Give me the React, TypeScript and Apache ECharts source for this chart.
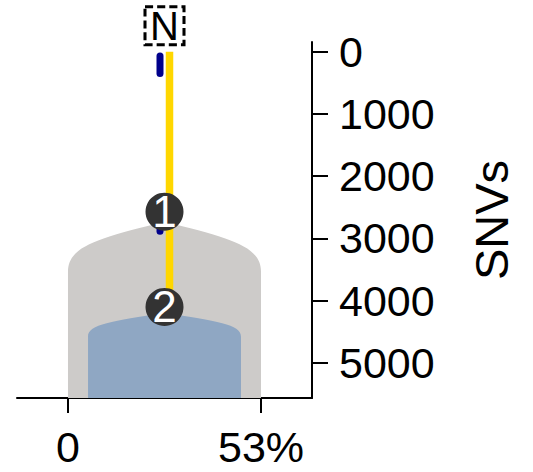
import React, { useEffect, useRef } from 'react';
import * as echarts from 'echarts';

// ---- data ----
const rootLabel = 'N';
const rootSNV = 0;
const cloneLabels = ['1', '2'];
const cloneSNVs = [2570, 4100];
const clonePrevalence = [0.53, 0.42];
const trunkSegment = [0, 4100]; // yellow trunk: root -> clone 2
const sideSegments = [
  [70, 350],
  [2570, 2885],
]; // dark blue
const yTicks = [0, 1000, 2000, 3000, 4000, 5000];
const xTicks = [0, 0.53];
const xTickLabels = ['0', '53%'];

// ---- layout / style constants ----
const X_MIN = -0.14;
const X_MAX = 0.67;
const Y_MIN = -156;
const Y_MAX = 5562;
const CENTER = Math.max(...clonePrevalence) / 2;
const FONT = "'Liberation Sans', Arial, sans-serif";
const SHAPES = [
  { apex: 10, drop: 50, slope: 0.25, color: '#cdcbc9' },
  { apex: 6, drop: 23.5, slope: 0.15, color: '#8fa7c3' },
];

export default function App() {
  const ref = useRef<HTMLDivElement>(null);
  useEffect(() => {
    if (!ref.current) return;
    const chart = echarts.init(ref.current, null, { renderer: 'svg' });

    const cloneData = clonePrevalence.map((p, i) => [p, cloneSNVs[i]]);

    const option: any = {
      animation: false,
      textStyle: { fontFamily: FONT },
      grid: { left: 17, right: 221, top: 42, bottom: 74 },
      xAxis: {
        type: 'value',
        min: X_MIN,
        max: X_MAX,
        position: 'bottom',
        axisLine: { show: true, onZero: false, lineStyle: { color: '#000', width: 2 } },
        axisTick: { show: true, length: 15, customValues: xTicks, lineStyle: { color: '#000', width: 2 } },
        axisLabel: {
          show: true,
          customValues: xTicks,
          formatter: (v: number) => {
            const i = xTicks.findIndex((t) => Math.abs(t - v) < 1e-9);
            return i >= 0 ? xTickLabels[i] : '';
          },
          fontSize: 43,
          color: '#000',
          margin: 27,
          fontFamily: FONT,
        },
        splitLine: { show: false },
      },
      yAxis: {
        type: 'value',
        inverse: true,
        min: Y_MIN,
        max: Y_MAX,
        position: 'right',
        name: 'SNVs',
        nameLocation: 'middle',
        nameRotate: 90,
        nameGap: 156,
        nameTextStyle: { fontSize: 47, color: '#000', fontFamily: FONT },
        axisLine: { show: true, onZero: false, lineStyle: { color: '#000', width: 2 } },
        axisTick: { show: true, length: 16, customValues: yTicks, lineStyle: { color: '#000', width: 2 } },
        axisLabel: {
          show: true,
          customValues: yTicks,
          formatter: (v: number) => String(v),
          fontSize: 43,
          color: '#000',
          margin: 27,
          fontFamily: FONT,
        },
        splitLine: { show: false },
      },
      series: [
        {
          type: 'custom',
          name: 'clones',
          data: cloneData,
          z: 1,
          renderItem: (params: any, api: any) => {
            const idx = params.dataIndex;
            const prev = api.value(0);
            const snv = api.value(1);
            const left = api.coord([CENTER - prev / 2, snv]);
            const right = api.coord([CENTER + prev / 2, snv]);
            const bottom = api.coord([CENTER, Y_MAX])[1];
            const cx = (left[0] + right[0]) / 2;
            const h = (right[0] - left[0]) / 2;
            const s = SHAPES[idx];
            const ay = left[1] + s.apex;
            const d =
              `M${cx},${ay} ` +
              `C${cx - 0.68 * h},${ay + s.slope * 0.68 * h} ${cx - h},${ay + s.slope * h} ${cx - h},${ay + s.drop} ` +
              `L${cx - h},${bottom} L${cx + h},${bottom} L${cx + h},${ay + s.drop} ` +
              `C${cx + h},${ay + s.slope * h} ${cx + 0.68 * h},${ay + s.slope * 0.68 * h} ${cx},${ay} Z`;
            return {
              type: 'path',
              shape: { pathData: d },
              style: { fill: s.color, stroke: 'none' },
            };
          },
        },
        {
          type: 'custom',
          name: 'branches',
          z: 2,
          data: [
            [trunkSegment[0], trunkSegment[1], 0],
            ...sideSegments.map((s) => [s[0], s[1], 1]),
          ],
          renderItem: (params: any, api: any) => {
            const kind = api.value(2);
            const p1 = api.coord([CENTER, api.value(0)]);
            const p2 = api.coord([CENTER, api.value(1)]);
            const off = kind === 0 ? 5 : -4.5;
            return {
              type: 'line',
              shape: { x1: p1[0] + off, y1: p1[1], x2: p2[0] + off, y2: p2[1] },
              style: {
                stroke: kind === 0 ? '#ffd700' : '#00008b',
                lineWidth: kind === 0 ? 7.5 : 7,
                lineCap: kind === 0 ? 'butt' : 'round',
              },
            };
          },
        },
        {
          type: 'scatter',
          name: 'nodes',
          z: 3,
          symbol: 'circle',
          symbolSize: 38,
          itemStyle: { color: '#333333', opacity: 1 },
          label: {
            show: true,
            position: 'inside',
            formatter: (p: any) => p.name,
            color: '#fff',
            fontSize: 44,
            fontFamily: FONT,
          },
          data: cloneLabels.map((l, i) => ({ name: l, value: [CENTER, cloneSNVs[i]] })),
        },
        {
          type: 'scatter',
          name: 'root',
          z: 4,
          symbol: 'rect',
          symbolSize: [39, 38],
          symbolOffset: [0, -26],
          itemStyle: {
            color: '#ffffff',
            borderColor: '#000',
            borderWidth: 3,
            borderType: [8, 4],
            opacity: 1,
          },
          label: {
            show: true,
            position: 'inside',
            formatter: (p: any) => p.name,
            color: '#000',
            fontSize: 40,
            fontFamily: FONT,
          },
          data: [{ name: rootLabel, value: [CENTER, rootSNV] }],
        },
      ],
    };
    chart.setOption(option);
    return () => chart.dispose();
  }, []);
  return (
    <div
      ref={ref}
      style={{ position: 'fixed', left: 0, top: 0, width: 533, height: 472, background: '#fff' }}
    />
  );
}
